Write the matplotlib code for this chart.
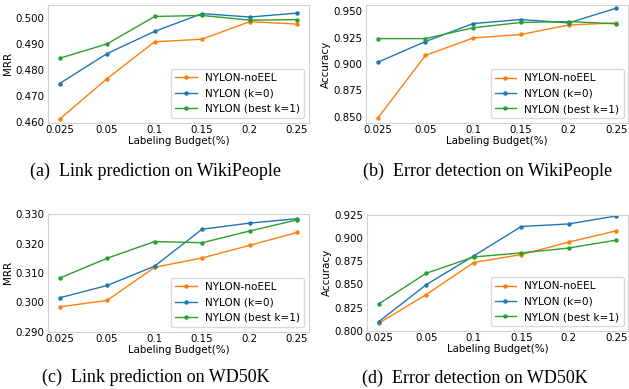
import numpy as np
import matplotlib
matplotlib.use('Agg')
import matplotlib.pyplot as plt

# labeling budget on the x axis (categorical)
budgets = ['0.025', '0.05', '0.1', '0.15', '0.2', '0.25']

series_names = ['NYLON-noEEL', 'NYLON (k=0)', 'NYLON (best k=1)']
series_colors = ['#ff7f0e', '#1f77b4', '#2ca02c']

# (a) link prediction on WikiPeople, MRR
a_noeel = [0.4613, 0.4768, 0.4909, 0.4919, 0.4986, 0.4977]
a_k0 = [0.4749, 0.4864, 0.4949, 0.5017, 0.5004, 0.5019]
a_best = [0.4846, 0.4901, 0.5006, 0.5010, 0.4992, 0.4994]

# (b) error detection on WikiPeople, accuracy
b_noeel = [0.8484, 0.9081, 0.9247, 0.9280, 0.9370, 0.9390]
b_k0 = [0.9016, 0.9213, 0.9384, 0.9422, 0.9390, 0.9530]
b_best = [0.9241, 0.9241, 0.9344, 0.9394, 0.9403, 0.9381]

# (c) link prediction on WD50K, MRR
c_noeel = [0.2984, 0.3006, 0.3119, 0.3151, 0.3194, 0.3238]
c_k0 = [0.3015, 0.3057, 0.3123, 0.3249, 0.3270, 0.3285]
c_best = [0.3082, 0.3150, 0.3207, 0.3203, 0.3243, 0.3281]

# (d) error detection on WD50K, accuracy
d_noeel = [0.8082, 0.8391, 0.8736, 0.8821, 0.8956, 0.9077]
d_k0 = [0.8099, 0.8497, 0.8807, 0.9123, 0.9151, 0.9237]
d_best = [0.8290, 0.8620, 0.8796, 0.8839, 0.8892, 0.8977]

captions = ['(a)  Link prediction on WikiPeople',
            '(b)  Error detection on WikiPeople',
            '(c)  Link prediction on WD50K',
            '(d)  Error detection on WD50K']

W, H = 629, 389
fig = plt.figure(figsize=(W / 100, H / 100), dpi=100)


def px_axes(x0, y0, x1, y1):
    """axes from pixel box (top-left origin)"""
    return fig.add_axes([x0 / W, 1 - y1 / H, (x1 - x0) / W, (y1 - y0) / H])


panels = [
    (px_axes(47.7, 5, 309, 122.5), [a_noeel, a_k0, a_best], 'MRR',
     (0.46, 0.505), np.arange(0.46, 0.5001, 0.01)),
    (px_axes(365.7, 5, 628.3, 123), [b_noeel, b_k0, b_best], 'Accuracy',
     (0.844, 0.956), np.arange(0.85, 0.9501, 0.025)),
    (px_axes(47.7, 214.3, 309, 331.5), [c_noeel, c_k0, c_best], 'MRR',
     (0.29, 0.33), np.arange(0.29, 0.3301, 0.01)),
    (px_axes(366.7, 214.7, 628.3, 331), [d_noeel, d_k0, d_best], 'Accuracy',
     (0.8, 0.925), np.arange(0.8, 0.9251, 0.025)),
]

fs = 7.4
x = np.arange(len(budgets))
for ax, data, ylab, ylim, yt in panels:
    for vals, name, col in zip(data, series_names, series_colors):
        ax.plot(x, vals, color=col, lw=1.0, marker='o', ms=2.2, label=name)
    ax.set_xlim(-0.25, 5.25)
    ax.set_xticks(x)
    ax.set_xticklabels(budgets)
    ax.set_ylim(*ylim)
    ax.set_yticks(yt)
    ax.set_yticklabels(['%.3f' % v for v in yt])
    ax.tick_params(length=0, labelsize=fs, pad=1.5)
    ax.tick_params(axis='y', pad=2.5)
    for sp in ax.spines.values():
        sp.set_color('#d0d0d0')
        sp.set_linewidth(0.8)
    ax.set_xlabel('Labeling Budget(%)', fontsize=fs, labelpad=1)
    ax.set_ylabel(ylab, fontsize=fs, labelpad=1.5)
    ax.legend(loc='lower right', fontsize=7.6, frameon=True, edgecolor='#d0d0d0',
              borderaxespad=0.45, handlelength=2.0)

cap_pos = [(155, 171), (488, 171), (155.5, 377), (475, 378)]
for (cx, cy), txt in zip(cap_pos, captions):
    fig.text(cx / W, 1 - cy / H, txt, ha='center', va='center',
             fontsize=13, family='Liberation Serif')

fig.savefig('out.png', dpi=100)
